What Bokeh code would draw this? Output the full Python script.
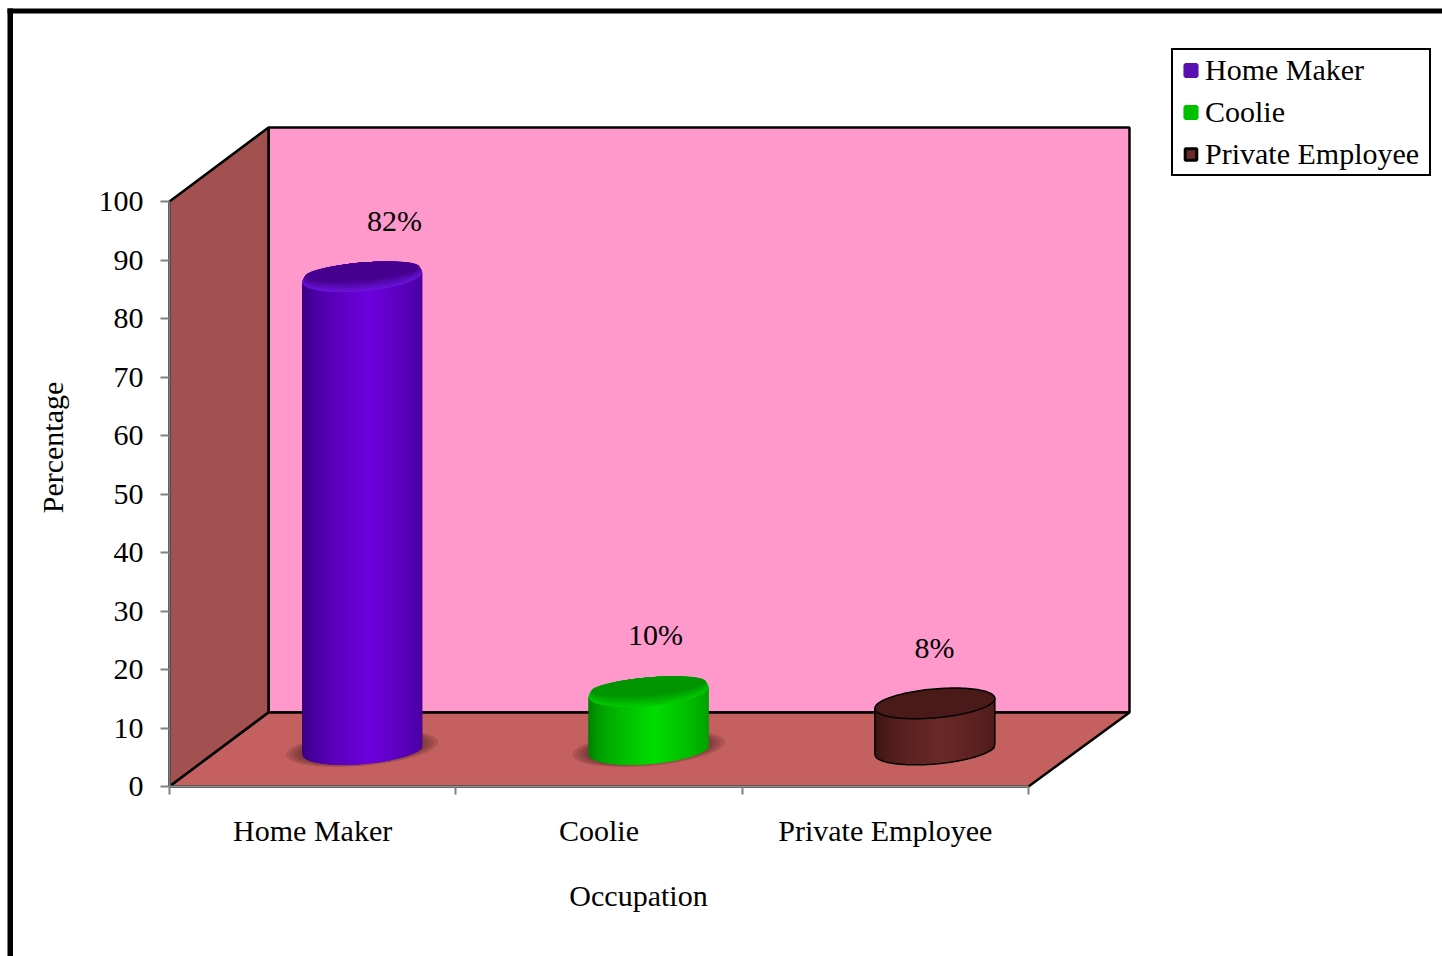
import numpy as np
from bokeh.plotting import figure
from bokeh.models import Range1d, LinearAxis, FixedTicker, Legend, LegendItem
from bokeh.core.properties import value
from bokeh.embed import file_html
from bokeh.resources import INLINE

categories = ["Home Maker", "Coolie", "Private Employee"]
percent_values = [82, 10, 8]
y_ticks = [0, 10, 20, 30, 40, 50, 60, 70, 80, 90, 100]
x_ticks = [0, 1, 2, 3]

FONT = "Liberation Serif"
FS = "30px"
W, H = 1442, 956
PAGE = 0
X0, PX_X = 169.0, 286.33   # page px of x=0, px per category
Y0, PX_Y = 786.0, 5.85     # page px of y=0, px per percent
DX, DY = 99.0, 74.0        # depth of the 3D box
DX_RIGHT = 101.0           # depth at the right-hand end of the box
FORESHORTEN = 0.985        # columns stand half way into the box


def X(px):
    return (np.asarray(px, dtype=float) - X0) / PX_X


def Y(py):
    return (Y0 - np.asarray(py, dtype=float)) / PX_Y


p = figure(width=W, height=H, output_backend="svg", toolbar_location=None,
           x_range=Range1d(float(X(PAGE)), float(X(PAGE + W))),
           y_range=Range1d(float(Y(PAGE + H)), float(Y(PAGE))),
           min_border=0, outline_line_color=None, x_axis_type=None, y_axis_type=None)
p.grid.visible = False

# outer frame (top + left)
p.quad(left=[float(X(7))], right=[float(X(12.5))], top=[float(Y(8))], bottom=[float(Y(PAGE + H))],
       fill_color="black", line_color=None)
p.quad(left=[float(X(7))], right=[float(X(PAGE + W))], top=[float(Y(8))], bottom=[float(Y(13))],
       fill_color="black", line_color=None)

# 3D box, built from the axis extent and the depth
xmax, ymax = x_ticks[-1], y_ticks[-1]
ddx, ddx_r, ddy = DX / PX_X, DX_RIGHT / PX_X, DY / PX_Y
WALL_LINE = dict(line_color="black", line_width=2.5)
p.patch([ddx, xmax + ddx_r, xmax + ddx_r, ddx], [ddy, ddy, ymax + ddy, ymax + ddy], fill_color="#FF99CC", **WALL_LINE)
p.patch([0, ddx, ddx, 0], [0, ddy, ymax + ddy, ymax], fill_color="#A35050", **WALL_LINE)
p.patch([0, xmax, xmax + ddx_r, ddx], [0, 0, ddy, ddy], fill_color="#C46060", **WALL_LINE)

styles = [
    dict(edge="#35007A", mid="#6C00DC", top="#46008F", rim="#6A12D8", line=None, shadow=True),
    dict(edge="#007A00", mid="#00DC00", top="#009400", rim="#00C800", line=None, shadow=True),
    dict(edge="#3A1210", mid="#6B2A28", top="#4A1A18", rim="#4A1A18", line="black", shadow=False),
]


def mix(a, b, t):
    ca = [int(a[i:i + 2], 16) for i in (1, 3, 5)]
    cb = [int(b[i:i + 2], 16) for i in (1, 3, 5)]
    return "#%02x%02x%02x" % tuple(int(round(x + (y - x) * t)) for x, y in zip(ca, cb))


HALF_W = 60.0      # px
HALF_H = 14.5      # px
TILT = 10.0 / 120  # px rise per px
BASE_UP = DY / 2   # px
SHIFT = DX / 2     # px


def ring(cx, cy, sa=1.0, sb=1.0, up=0.0):
    t = np.linspace(0, 2 * np.pi, 121)
    px = HALF_W * sa * np.cos(t)
    py = TILT * px + HALF_H * sb * np.sin(t) + up
    return (cx + px / PX_X).tolist(), (cy + py / PX_Y).tolist()


for i, (v, st) in enumerate(zip(percent_values, styles)):
    cx = i + 0.5 + SHIFT / PX_X
    cy = BASE_UP / PX_Y
    ct = cy + v * FORESHORTEN
    if st["shadow"]:
        for sa, sb in [(1.27, 1.2), (1.2, 1.15), (1.13, 1.1), (1.07, 1.06)]:
            sx, sy = ring(cx, cy, sa, sb, up=1.0)
            p.patch(sx, sy, fill_color="#5A2A2A", fill_alpha=0.2, line_color=None)
    # body: vertical strips, darkest at the edges
    xs = np.linspace(-HALF_W, HALF_W, 121)
    u = np.clip(xs / HALF_W, -1, 1)
    low = TILT * xs - HALF_H * np.sqrt(1 - u ** 2)
    shade = np.clip(1 - np.abs(u - 0.1) / 1.1, 0, 1) ** 0.55
    # opaque underlay so that the floor line cannot bleed through the strips
    p.patch((cx + np.concatenate([xs, xs[::-1]]) / PX_X).tolist(),
            np.concatenate([cy + low / PX_Y, (ct + TILT * xs / PX_Y)[::-1]]).tolist(),
            fill_color=st["edge"], line_color=None)
    p.quad(left=(cx + xs / PX_X).tolist(), right=(cx + np.minimum(xs + 2.5, HALF_W) / PX_X).tolist(),
           bottom=(cy + low / PX_Y).tolist(), top=(ct + TILT * xs / PX_Y).tolist(),
           fill_color=[mix(st["edge"], st["mid"], float(s)) for s in shade], line_color=None)
    # cap
    sx, sy = ring(cx, ct)
    p.patch(sx, sy, fill_color=st["rim"], line_color=st["line"], line_width=1.5)
    if st["line"] is None:
        for k in range(1, 9):
            f = k / 8
            sx, sy = ring(cx, ct, 1 - 0.05 * f, 1 - 0.39 * f, up=0.7 * k)
            p.patch(sx, sy, fill_color=mix(st["rim"], st["top"], f), line_color=None)
    else:
        # outline of the body
        p.line((cx + xs / PX_X).tolist(), (cy + low / PX_Y).tolist(), line_color="black", line_width=1.5)
        for e in (-HALF_W, HALF_W):
            p.line([cx + e / PX_X] * 2, [cy + TILT * e / PX_Y, ct + TILT * e / PX_Y], line_color="black", line_width=1.5)

# axes
yax = LinearAxis(fixed_location=0, ticker=FixedTicker(ticks=y_ticks), bounds=(0, 100),
                 axis_line_color="#808080", axis_line_width=2,
                 major_tick_line_color="#808080", major_tick_line_width=2,
                 major_tick_in=0, major_tick_out=9, minor_tick_line_color=None,
                 major_label_standoff=17, major_label_text_font=FONT,
                 major_label_text_font_size=FS, major_label_text_color="black")
p.add_layout(yax, "left")
xax = LinearAxis(fixed_location=0, ticker=FixedTicker(ticks=[c + 0.5 for c in range(3)], minor_ticks=x_ticks),
                 bounds=(0, 3), axis_line_color="#909090", axis_line_width=2,
                 major_tick_line_color=None, major_tick_in=0, major_tick_out=8,
                 minor_tick_line_color="#808080", minor_tick_line_width=2, minor_tick_in=0, minor_tick_out=8,
                 major_label_standoff=19, major_label_text_font=FONT,
                 major_label_text_font_size=FS, major_label_text_color="black",
                 major_label_overrides={c + 0.5: name for c, name in enumerate(categories)})
p.add_layout(xax, "below")

# value labels
TX = dict(text_font=value(FONT), text_font_size=value(FS), text_color="black", text_align="center", text_baseline="middle")
label_px = [(394, 220), (655, 634), (934, 647)]
for v, (lx, ly) in zip(percent_values, label_px):
    p.text([float(X(lx))], [float(Y(ly))], text=[f"{v}%"], **TX)
p.text([float(X(638))], [float(Y(895))], text=["Occupation"], **TX)
p.text([float(X(52))], [float(Y(447))], text=["Percentage"], angle=np.pi / 2, **TX)

# legend
swatch = [("#5A10B0", "#5A10B0", 3.5), ("#00C000", "#00C000", 3.5), ("#6B2A28", "black", 3)]
items = []
for name, (fc, lc, lw) in zip(categories, swatch):
    r = p.scatter([np.nan], [np.nan], marker="square", fill_color=fc, line_color=lc, line_width=lw)
    items.append(LegendItem(label=name, renderers=[r]))
legend = Legend(items=items, location=(1171 - PAGE, H - (176 - PAGE)), orientation="vertical",
                margin=0, padding=3, spacing=8, glyph_width=29, glyph_height=34, label_height=34,
                label_width=221, label_standoff=0, label_text_font=FONT, label_text_font_size=FS,
                label_text_color="black", border_line_color="black", border_line_alpha=1, border_line_width=2.5,
                background_fill_color="white", background_fill_alpha=1)
p.add_layout(legend)

open("out.html", "w").write(file_html(p, INLINE))
